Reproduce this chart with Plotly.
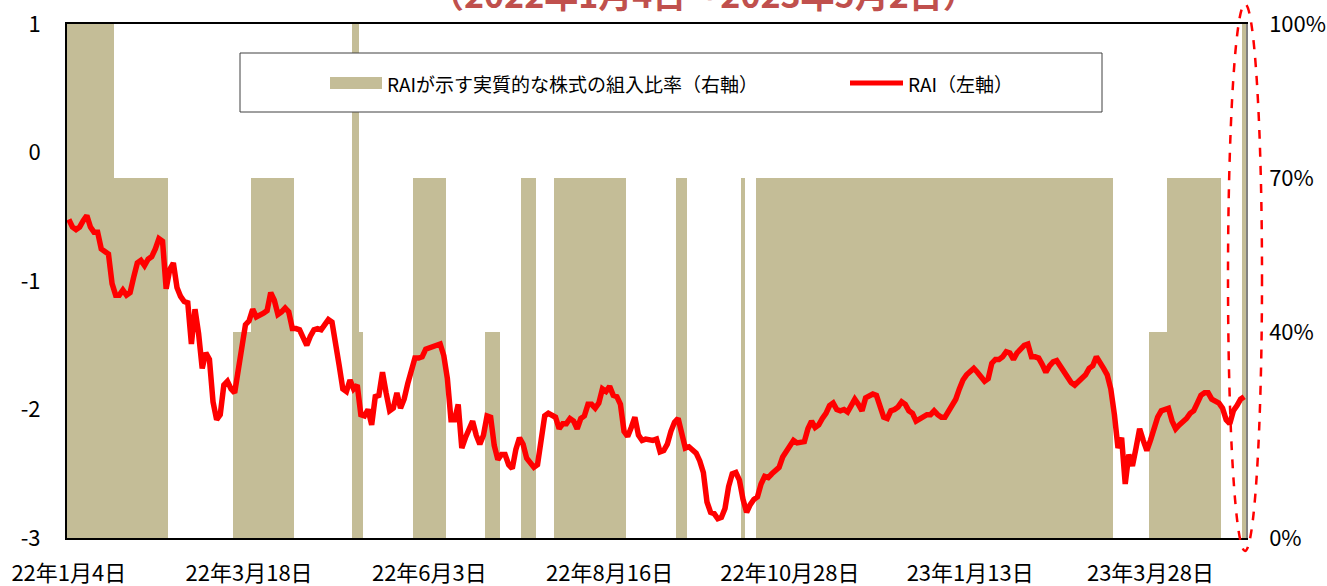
import plotly.graph_objects as go

# ---------------- data ----------------
tick_positions = [0, 50, 100, 150, 200, 250, 300]
tick_labels = ["22年1月4日", "22年3月18日", "22年6月3日", "22年8月16日",
               "22年10月28日", "23年1月13日", "23年3月28日"]

# RAI (left axis), one value per trading day 2022-01-04 .. 2023-05-02
rai = [
    -0.52, -0.58, -0.60, -0.58, -0.53, -0.49, -0.58, -0.62, -0.62, -0.75,
    -0.77, -0.79, -1.02, -1.11, -1.11, -1.07, -1.11, -1.09, -0.97, -0.86,
    -0.84, -0.88, -0.83, -0.81, -0.75, -0.67, -0.69, -1.06, -0.91, -0.86,
    -1.05, -1.12, -1.16, -1.17, -1.49, -1.22, -1.41, -1.68, -1.56, -1.61,
    -1.94, -2.08, -2.04, -1.81, -1.78, -1.84, -1.87, -1.70, -1.52, -1.34,
    -1.31, -1.22, -1.28, -1.27, -1.25, -1.23, -1.09, -1.15, -1.26, -1.24,
    -1.21, -1.24, -1.37, -1.37, -1.38, -1.44, -1.50, -1.43, -1.38, -1.37,
    -1.38, -1.34, -1.30, -1.32, -1.52, -1.66, -1.84, -1.86, -1.77, -1.84,
    -1.81, -2.04, -2.05, -2.00, -2.12, -1.90, -1.89, -1.71, -1.87, -2.01,
    -1.99, -1.87, -1.99, -1.92, -1.80, -1.70, -1.60, -1.60, -1.59, -1.53,
    -1.52, -1.52, -1.51, -1.49, -1.58, -1.76, -2.08, -2.08, -1.96, -2.30,
    -2.22, -2.16, -2.09, -2.20, -2.27, -2.20, -2.05, -2.06, -2.28, -2.39,
    -2.35, -2.35, -2.43, -2.46, -2.31, -2.22, -2.27, -2.38, -2.42, -2.45,
    -2.43, -2.20, -2.05, -2.03, -2.05, -2.06, -2.15, -2.11, -2.11, -2.07,
    -2.09, -2.15, -2.07, -2.05, -1.96, -1.96, -1.99, -1.95, -1.84, -1.86,
    -1.82, -1.89, -1.90, -1.96, -2.17, -2.21, -2.14, -2.06, -2.20, -2.24,
    -2.23, -2.24, -2.24, -2.23, -2.33, -2.32, -2.27, -2.17, -2.10, -2.07,
    -2.17, -2.30, -2.29, -2.32, -2.34, -2.40, -2.49, -2.72, -2.80, -2.81,
    -2.85, -2.84, -2.77, -2.60, -2.50, -2.49, -2.55, -2.70, -2.80, -2.74,
    -2.70, -2.68, -2.58, -2.52, -2.53, -2.50, -2.47, -2.45, -2.37, -2.33,
    -2.29, -2.24, -2.26, -2.26, -2.25, -2.15, -2.09, -2.14, -2.12, -2.07,
    -2.03, -1.97, -1.95, -2.00, -2.01, -2.00, -2.02, -1.97, -1.92, -1.96,
    -2.01, -1.91, -1.89, -1.88, -1.89, -1.98, -2.06, -2.07, -2.01, -2.00,
    -1.98, -1.94, -1.96, -2.01, -2.03, -2.09, -2.07, -2.06, -2.04, -2.04,
    -2.01, -2.04, -2.06, -2.06, -2.01, -1.96, -1.92, -1.84, -1.77, -1.73,
    -1.70, -1.68, -1.71, -1.74, -1.78, -1.76, -1.64, -1.61, -1.61, -1.59,
    -1.55, -1.56, -1.61, -1.56, -1.53, -1.50, -1.49, -1.59, -1.59, -1.60,
    -1.65, -1.71, -1.66, -1.63, -1.62, -1.66, -1.70, -1.75, -1.79, -1.81,
    -1.78, -1.76, -1.73, -1.68, -1.66, -1.59, -1.63, -1.68, -1.73, -1.84,
    -2.04, -2.30, -2.22, -2.58, -2.35, -2.44, -2.30, -2.15, -2.24, -2.32,
    -2.24, -2.14, -2.06, -2.01, -2.00, -1.99, -2.09, -2.15, -2.12, -2.10,
    -2.07, -2.03, -2.01, -1.95, -1.89, -1.87, -1.87, -1.92, -1.94, -1.95,
    -1.99, -2.08, -2.11, -2.01, -1.97, -1.92, -1.90,
]

# equity allocation implied by RAI (right axis, %), one value per trading day
allocation = (
    [100] * 13 + [70] * 15 + [0] * 18 + [40] * 5 + [70] * 12 + [0] * 16 +
    [100] * 2 + [40] * 1 + [0] * 14 + [70] * 9 + [0] * 11 + [40] * 4 +
    [0] * 6 + [70] * 4 + [0] * 5 + [70] * 20 + [0] * 14 + [70] * 3 +
    [0] * 15 + [70] * 1 + [0] * 3 + [70] * 99 + [0] * 10 + [40] * 5 +
    [70] * 15 + [0] * 6 + [100] * 1
)

right_ticks = [0, 40, 70, 100]
right_labels = ["0%", "40%", "70%", "100%"]
left_ticks = [-3, -2, -1, 0, 1]

bar_name = "RAIが示す実質的な株式の組入比率（右軸）"
line_name = "RAI（左軸）"
title_text = "（2022年1月4日～2023年5月2日）"

# ---------------- figure ----------------
W, H = 1327, 586
L, R, T, B = 67, 81, 24, 48
PW, PH = W - L - R, H - T - B
FONT = "Noto Sans CJK JP, Noto Sans, sans-serif"
TAN = "#C4BD97"
RED = "#FF0000"


def px(xp):
    return (xp - L) / PW


def py(yp):
    return (H - B - yp) / PH


x = list(range(len(rai)))

fig = go.Figure()
fig.add_trace(go.Bar(
    x=x, y=allocation, yaxis="y", width=1.08,
    marker=dict(color=TAN, line=dict(width=0)),
    name=bar_name, showlegend=False, hoverinfo="skip",
))
fig.add_trace(go.Scatter(
    x=x, y=rai, yaxis="y2", mode="lines",
    line=dict(color=RED, width=5.5),
    name=line_name, showlegend=False,
))

shapes = [
    # legend frame
    dict(type="rect", xref="paper", yref="paper",
         x0=px(240), x1=px(1102), y0=py(112), y1=py(53),
         line=dict(color="#404040", width=1), fillcolor="white", layer="above"),
    # legend swatches
    dict(type="rect", xref="paper", yref="paper",
         x0=px(330), x1=px(382), y0=py(89), y1=py(77),
         line=dict(width=0), fillcolor=TAN, layer="above"),
    dict(type="line", xref="paper", yref="paper",
         x0=px(850), x1=px(903), y0=py(83), y1=py(83),
         line=dict(color=RED, width=5), layer="above"),
    # highlight ellipse around the latest reading
    dict(type="circle", xref="paper", yref="paper",
         x0=px(1228), x1=px(1262), y0=py(551), y1=py(4),
         line=dict(color=RED, width=2.5, dash="dash"), layer="above"),
]

annotations = [
    dict(text=bar_name, xref="paper", yref="paper", x=px(385), y=py(83),
         xanchor="left", yanchor="middle", showarrow=False,
         font=dict(family=FONT, size=19, color="#000000")),
    dict(text=line_name, xref="paper", yref="paper", x=px(906), y=py(83),
         xanchor="left", yanchor="middle", showarrow=False,
         font=dict(family=FONT, size=19, color="#000000")),
    dict(text="<b>" + title_text + "</b>", xref="paper", yref="paper",
         x=px(703), y=py(-7), xanchor="center", yanchor="middle",
         showarrow=False, font=dict(family=FONT, size=34, color="#C0504D")),
]

fig.update_layout(
    width=W, height=H, autosize=False,
    margin=dict(l=L, r=R, t=T, b=B, pad=0, autoexpand=False),
    paper_bgcolor="white", plot_bgcolor="white",
    bargap=0, showlegend=False,
    font=dict(family=FONT, size=22, color="#000000"),
    xaxis=dict(
        range=[-0.5, len(rai) - 0.5], tickmode="array",
        tickvals=tick_positions, ticktext=tick_labels,
        showline=True, linecolor="#000000", linewidth=2, mirror=True,
        showgrid=False, zeroline=False, ticks="", automargin=False,
        ticklabelstandoff=15, tickfont=dict(size=22),
    ),
    yaxis=dict(
        range=[0, 100], side="right", tickmode="array",
        tickvals=right_ticks, ticktext=right_labels,
        showline=True, linecolor="#808080", linewidth=1.5,
        showgrid=False, zeroline=False, ticks="", automargin=False,
        ticklabelstandoff=17, tickfont=dict(size=22),
    ),
    yaxis2=dict(
        range=[-3, 1], side="left", overlaying="y", tickmode="array",
        tickvals=left_ticks, ticktext=[str(v) for v in left_ticks],
        showline=True, linecolor="#000000", linewidth=2,
        showgrid=False, zeroline=False, ticks="", automargin=False,
        ticklabelstandoff=20, tickfont=dict(size=22),
    ),
    shapes=shapes,
    annotations=annotations,
)

fig.write_html(
    "out.html",
    config={"displayModeBar": False},
    post_script="document.body.style.margin='0px';document.body.style.overflow='hidden';",
)
